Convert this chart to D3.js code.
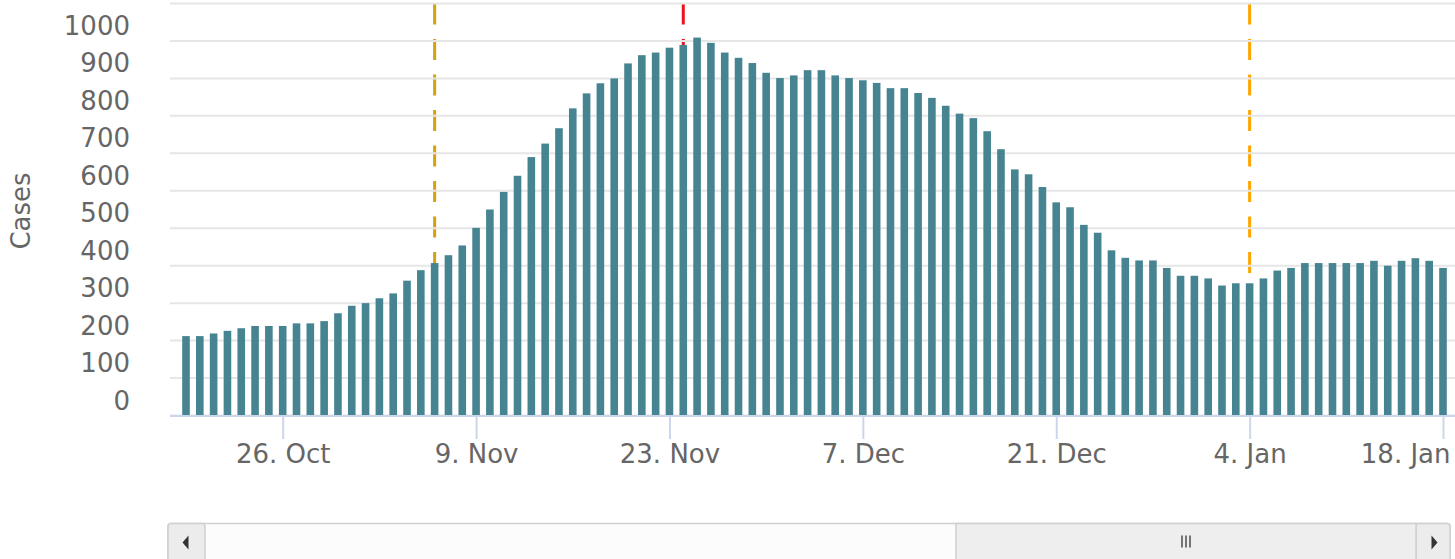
<!DOCTYPE html>
<html>
<head>
<meta charset="utf-8">
<script src="https://cdn.jsdelivr.net/npm/d3@7"></script>
<style>
  body { margin: 0; background: #fff; }
  text { font-family: "DejaVu Sans", sans-serif; fill: #666; }
  .grid line { stroke: #e6e6e6; stroke-width: 2; }
  .axis path, .axis line { stroke: #ccd6eb; stroke-width: 2; }
</style>
</head>
<body>
<svg id="chart"></svg>
<script>
// first day shown, one bar per day
const startDay = new Date(2020, 9, 19);
const cases = [
  212, 212, 219, 226, 233, 239, 239, 239, 246, 246,
  252, 273, 293, 300, 313, 326, 360, 388, 407, 428,
  454, 501, 550, 597, 640, 690, 726, 767, 820, 860,
  887, 900, 940, 962, 969, 982, 989, 1009, 995, 969,
  955, 941, 915, 901, 908, 922, 922, 908, 901, 895,
  888, 874, 874, 861, 848, 827, 806, 794, 759, 711,
  657, 644, 610, 569, 556, 509, 488, 441, 421, 414,
  414, 394, 373, 373, 366, 347, 353, 353, 366, 387,
  394, 407, 407, 407, 407, 407, 413, 400, 413, 420,
  413, 394
];
const days = cases.map((c, i) => d3.timeDay.offset(startDay, i));

const yTicks = [0, 100, 200, 300, 400, 500, 600, 700, 800, 900, 1000];
const gridValues = [0, 100, 200, 300, 400, 500, 600, 700, 800, 900, 1000, 1100];
const xTicks = [
  new Date(2020, 9, 26), new Date(2020, 10, 9), new Date(2020, 10, 23),
  new Date(2020, 11, 7), new Date(2020, 11, 21), new Date(2021, 0, 4),
  new Date(2021, 0, 18)
];

// marker lines
const markerDays = [new Date(2020, 10, 6), new Date(2020, 10, 24), new Date(2021, 0, 4)];
const markerColors = ['#d4a20c', '#e8161c', '#ffa500'];

class CaseChart {
  constructor(_config) {
    this.config = {
      parentElement: _config.parentElement,
      containerWidth: _config.containerWidth || 1455,
      containerHeight: _config.containerHeight || 559,
      margin: _config.margin || {top: 3.5, right: 0, bottom: 143.5, left: 170}
    };
    this.initVis();
  }

  initVis() {
    let vis = this;
    vis.width = vis.config.containerWidth - vis.config.margin.left - vis.config.margin.right;
    vis.height = vis.config.containerHeight - vis.config.margin.top - vis.config.margin.bottom;

    // first and last bar centres sit 16px / 12px inside the plot
    vis.xScale = d3.scaleTime()
      .domain([days[0], days[days.length - 1]])
      .range([16, vis.width - 12]);

    vis.yScale = d3.scaleLinear()
      .domain([0, 1100])
      .range([vis.height, 0]);

    vis.svg = d3.select(vis.config.parentElement)
      .attr('width', vis.config.containerWidth)
      .attr('height', vis.config.containerHeight);

    vis.chart = vis.svg.append('g')
      .attr('transform', `translate(${vis.config.margin.left},${vis.config.margin.top})`);

    vis.renderVis();
  }

  renderVis() {
    let vis = this;

    // dashed marker lines (behind grid and bars)
    vis.chart.append('g').selectAll('line')
      .data(markerDays)
      .join('line')
      .attr('x1', d => vis.xScale(d))
      .attr('x2', d => vis.xScale(d))
      .attr('y1', 0)
      .attr('y2', vis.height)
      .attr('stroke', (d, i) => markerColors[i])
      .attr('stroke-width', 3)
      .attr('stroke-dasharray', '21,14.5');

    // horizontal grid
    vis.chart.append('g')
      .attr('class', 'grid')
      .selectAll('line')
      .data(gridValues)
      .join('line')
      .attr('x1', 0)
      .attr('x2', vis.width)
      .attr('y1', d => vis.yScale(d))
      .attr('y2', d => vis.yScale(d));

    // bars
    const barW = 7.6;
    vis.chart.append('g').selectAll('rect')
      .data(cases)
      .join('rect')
      .attr('fill', '#478491')
      .attr('x', (d, i) => vis.xScale(days[i]) - barW / 2)
      .attr('y', d => vis.yScale(d))
      .attr('width', barW)
      .attr('height', d => vis.height - vis.yScale(d));

    // x axis
    vis.xAxis = d3.axisBottom(vis.xScale)
      .tickValues(xTicks)
      .tickSize(23)
      .tickSizeOuter(0)
      .tickPadding(3)
      .tickFormat(d3.timeFormat('%-d. %b'));

    vis.xAxisG = vis.chart.append('g')
      .attr('class', 'axis x-axis')
      .attr('transform', `translate(0,${vis.height + 0.5})`)
      .call(vis.xAxis);
    vis.xAxisG.select('.domain').attr('d', `M0,0H${vis.width}`);
    vis.xAxisG.selectAll('text')
      .attr('dy', 0)
      .attr('y', 47)
      .style('font-size', '26px')
      .style('fill', '#666');
    // last label is pushed inside the plot, like the original
    vis.xAxisG.selectAll('.tick').filter((d, i, n) => i === n.length - 1)
      .select('text')
      .attr('text-anchor', 'end')
      .attr('x', 7);

    // y labels sit just above their grid line
    vis.chart.append('g').selectAll('text')
      .data(yTicks)
      .join('text')
      .attr('x', -40)
      .attr('y', d => vis.yScale(d) - 6)
      .attr('text-anchor', 'end')
      .style('font-size', '26px')
      .text(d => d);

    // y axis title
    vis.chart.append('text')
      .attr('transform', `translate(${-140},${207.5}) rotate(-90)`)
      .attr('text-anchor', 'middle')
      .style('font-size', '26px')
      .text('Cases');

    vis.renderScrollbar();
  }

  renderScrollbar() {
    let vis = this;
    const sb = vis.svg.append('g')
      .attr('transform', `translate(${vis.config.margin.left - 2},523.5)`);
    const w = vis.width - 3, h = 38, btn = 37;
    const thumbX = 788, thumbW = w - btn - thumbX;

    sb.append('rect')
      .attr('x', 0).attr('y', 0).attr('width', w).attr('height', h)
      .attr('rx', 3)
      .attr('fill', '#fcfcfc').attr('stroke', '#d0d0d0').attr('stroke-width', 1.5);
    sb.append('rect')
      .attr('x', 0).attr('y', 0).attr('width', btn).attr('height', h)
      .attr('rx', 3)
      .attr('fill', '#ececec').attr('stroke', '#d0d0d0').attr('stroke-width', 1.5);
    sb.append('rect')
      .attr('x', w - btn + 3).attr('y', 0).attr('width', btn - 3).attr('height', h)
      .attr('rx', 3)
      .attr('fill', '#ececec').attr('stroke', '#d0d0d0').attr('stroke-width', 1.5);
    sb.append('rect')
      .attr('x', thumbX).attr('y', 0).attr('width', thumbW + 3).attr('height', h)
      .attr('fill', '#eeeeee').attr('stroke', '#d0d0d0').attr('stroke-width', 1.5);

    // arrows
    sb.append('path')
      .attr('d', `M${btn / 2 - 4},19 L${btn / 2 + 2},12 L${btn / 2 + 2},26 Z`)
      .attr('fill', '#333');
    sb.append('path')
      .attr('d', `M${w - btn / 2 + 6},19 L${w - btn / 2},12 L${w - btn / 2},26 Z`)
      .attr('fill', '#333');

    // grip
    const gx = thumbX + (thumbW + 3) / 2;
    sb.append('g').selectAll('line')
      .data([-4, 0, 4])
      .join('line')
      .attr('x1', d => gx + d).attr('x2', d => gx + d)
      .attr('y1', 12).attr('y2', 24)
      .attr('stroke', '#333').attr('stroke-width', 1.3);
  }
}

new CaseChart({ parentElement: '#chart' });
</script>
</body>
</html>
